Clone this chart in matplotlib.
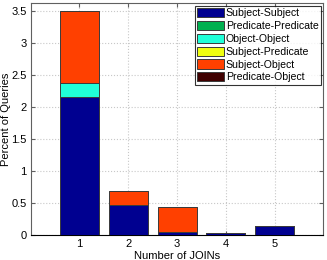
import matplotlib
matplotlib.use("Agg")
import matplotlib.pyplot as plt
import numpy as np

plt.rcParams['font.family'] = ['Liberation Sans', 'DejaVu Sans']

joins = [1, 2, 3, 4, 5]
labels = ["Subject-Subject", "Predicate-Predicate", "Object-Object",
          "Subject-Predicate", "Subject-Object", "Predicate-Object"]
subj_subj = [2.15, 0.47, 0.04, 0.035, 0.135]
pred_pred = [0.0, 0.0, 0.0, 0.0, 0.0]
obj_obj = [0.22, 0.0, 0.0, 0.0, 0.0]
subj_pred = [0.0, 0.0, 0.0, 0.0, 0.0]
subj_obj = [1.12, 0.21, 0.39, 0.0, 0.0]
pred_obj = [0.005, 0.0, 0.0, 0.0, 0.0]

series = [subj_subj, pred_pred, obj_obj, subj_pred, subj_obj, pred_obj]
colors = ["#000090", "#00B050", "#20FFD8", "#F0FF10", "#FF4000", "#400000"]

fig = plt.figure(figsize=(3.27, 2.6), dpi=100, facecolor='white')
ax = fig.add_axes([0.094, 0.0962, 0.8947, 0.8908])

bottom = np.zeros(len(joins))
for vals, lab, c in zip(series, labels, colors):
    ax.bar(joins, vals, width=0.8, bottom=bottom, color=c, label=lab,
           edgecolor='#3a3a3a', linewidth=0.7, zorder=3)
    bottom += np.array(vals)

ax.set_xlim(0, 6)
ax.set_ylim(0, 3.615)
ax.set_xticks(joins)
ax.set_yticks([0, 0.5, 1, 1.5, 2, 2.5, 3, 3.5])
ax.set_yticklabels(['0', '0.5', '1', '1.5', '2', '2.5', '3', '3.5'])
ax.grid(True, linestyle=':', color='#c8c8c8', linewidth=0.8, zorder=0)
ax.tick_params(direction='in', top=True, right=True, labelsize=8, length=3,
               color='#606060', pad=3)
for s in ax.spines.values():
    s.set_color('#606060')
    s.set_linewidth(0.8)
ax.spines['bottom'].set_color('black')

ax.set_xlabel("Number of JOINs", fontsize=8, labelpad=1)
ax.set_ylabel("Percent of Queries", fontsize=8)
ax.yaxis.set_label_coords(-0.066, 0.5)

# legend top right, MATLAB style box
leg = ax.legend(loc='upper right', fontsize=7.6, frameon=True, fancybox=False,
                borderpad=0.2, labelspacing=0.25, handlelength=2.5,
                handleheight=0.95, handletextpad=0.2, borderaxespad=0.25)
leg.get_frame().set_edgecolor('black')
leg.get_frame().set_linewidth(0.8)

fig.savefig("out.png", dpi=100)
